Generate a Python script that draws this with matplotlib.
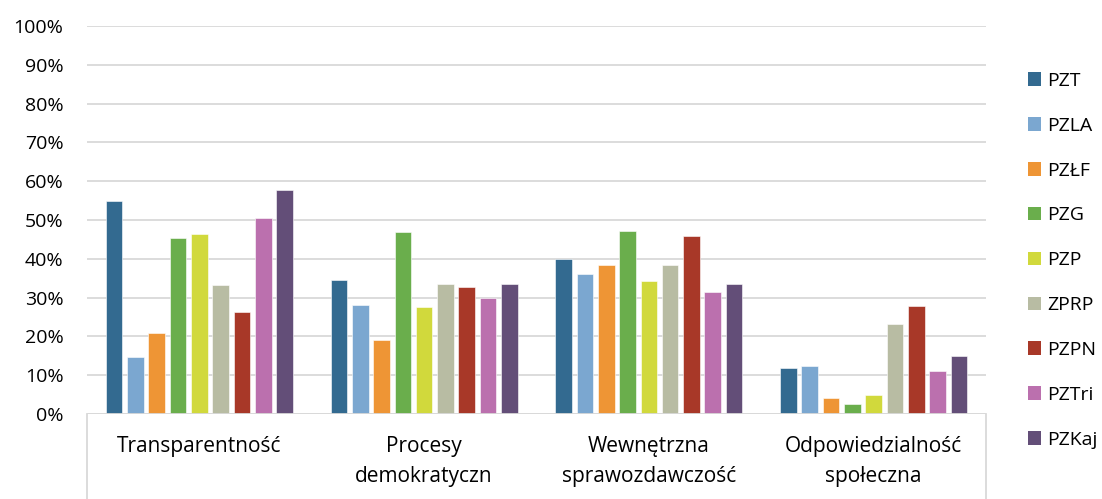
import numpy as np
import matplotlib.pyplot as plt
from matplotlib.patches import Patch
from matplotlib.lines import Line2D

plt.rcParams['font.family'] = ['Open Sans', 'DejaVu Sans']

# ---------- dane ----------
categories = ['Transparentność', 'Procesy\ndemokratyczn', 'Wewnętrzna\nsprawozdawczość',
              'Odpowiedzialność\nspołeczna']
series = ['PZT', 'PZLA', 'PZŁF', 'PZG', 'PZP', 'ZPRP', 'PZPN', 'PZTri', 'PZKaj']
values = {
    'PZT':   [55.0, 34.5, 39.9, 11.9],
    'PZLA':  [14.7, 28.0, 36.2, 12.4],
    'PZŁF':  [20.9, 19.2, 38.5, 4.1],
    'PZG':   [45.4, 46.9, 47.2, 2.7],
    'PZP':   [46.4, 27.6, 34.4, 5.0],
    'ZPRP':  [33.3, 33.6, 38.3, 23.2],
    'PZPN':  [26.4, 32.8, 46.0, 27.8],
    'PZTri': [50.5, 30.0, 31.5, 11.0],
    'PZKaj': [57.8, 33.4, 33.5, 14.9],
}
colors = ['#336a90', '#7ba7d0', '#ee9535', '#6aae4c', '#d1d93c',
          '#b8bca3', '#a83828', '#bb70ae', '#634e78']
yticks = np.arange(0, 101, 10)

FS = 14      # etykiety osi Y i legenda
FS_CAT = 15  # etykiety kategorii

# ---------- rysunek ----------
fig = plt.figure(figsize=(11.02, 4.99), dpi=100)
ax = fig.add_axes([87 / 1102, 1 - 414 / 499, 899 / 1102, 388 / 499])

x = np.arange(len(categories))
step, width = 0.0948, 0.074
for i, (s, c) in enumerate(zip(series, colors)):
    ax.bar(x + (i - 4) * step, values[s], width, color=c,
           edgecolor='white', linewidth=0.4, zorder=3, label=s)

ax.set_xlim(-0.5, len(categories) - 0.5)
ax.set_ylim(0, 100)
ax.set_yticks(yticks)
ax.set_yticklabels([f'{v}%' for v in yticks])
ax.yaxis.grid(True, color='#d9d9d9', linewidth=1.3, zorder=0)
ax.set_axisbelow(True)
for sp in ax.spines.values():
    sp.set_visible(False)
ax.tick_params(axis='y', length=0, pad=17, labelsize=FS, colors='#000000')
ax.tick_params(axis='x', length=0, pad=16, labelsize=FS_CAT)
ax.set_xticks(x)
ax.set_xticklabels(categories, linespacing=1.53)

# oś kategorii: linia dolna + boczne krawędzie
ax.axhline(0, color='#d9d9d9', linewidth=1.3, zorder=4)
for xe in (-0.5, len(categories) - 0.5):
    ax.add_line(Line2D([xe, xe], [0, -0.23], transform=ax.get_xaxis_transform(),
                       color='#d9d9d9', linewidth=1.3, clip_on=False))

handles = [Patch(facecolor=c, label=s) for s, c in zip(series, colors)]
fig.legend(handles=handles, loc='upper left', bbox_to_anchor=(1028 / 1102, 1 - 72 / 499),
           frameon=False, fontsize=FS, handlelength=0.69, handleheight=0.69,
           handletextpad=0.3, labelspacing=1.38, borderpad=0, borderaxespad=0)

fig.savefig('out.png', dpi=100)
